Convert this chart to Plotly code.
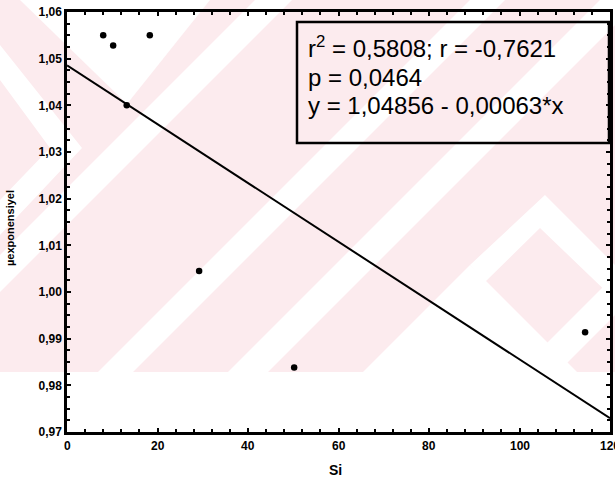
import plotly.graph_objects as go

# Si content vs. exponential mu, with the fitted regression line
si = [8.0, 10.2, 18.3, 13.2, 29.2, 50.2, 114.5]
mu_exp = [1.0550, 1.0528, 1.0550, 1.0400, 1.0045, 0.9838, 0.9914]

fit_intercept = 1.04856
fit_slope = -0.00063
fit_x = [0, 120]

x_tick_vals = [0, 20, 40, 60, 80, 100, 120]
y_tick_vals = [0.97, 0.98, 0.99, 1.00, 1.01, 1.02, 1.03, 1.04, 1.05, 1.06]

stats_lines = [
    "r<sup>2</sup> = 0,5808; r = -0,7621",
    "p = 0,0464",
    "y = 1,04856 - 0,00063*x",
]

# ---- page geometry (pixels) ----
W, H = 615, 484
PL, PR, PT, PB = 67, 610, 12, 432   # plot area edges


def to_paper(px, py):
    return (px - PL) / (PR - PL), (PB - py) / (PB - PT)


def clip_rect(poly, x0, y0, x1, y1):
    """Sutherland-Hodgman clip of a polygon to an axis-aligned rectangle."""
    def clip(pts, inside, inter):
        out = []
        for i in range(len(pts)):
            cur, prev = pts[i], pts[i - 1]
            if inside(cur):
                if not inside(prev):
                    out.append(inter(prev, cur))
                out.append(cur)
            elif inside(prev):
                out.append(inter(prev, cur))
        return out

    def ix(xc):
        return lambda p, q: (xc, p[1] + (q[1] - p[1]) * (xc - p[0]) / (q[0] - p[0]))

    def iy(yc):
        return lambda p, q: (p[0] + (q[0] - p[0]) * (yc - p[1]) / (q[1] - p[1]), yc)

    pts = list(poly)
    for inside, inter in [
        (lambda p: p[0] >= x0, ix(x0)),
        (lambda p: p[0] <= x1, ix(x1)),
        (lambda p: p[1] >= y0, iy(y0)),
        (lambda p: p[1] <= y1, iy(y1)),
    ]:
        if not pts:
            break
        pts = clip(pts, inside, inter)
    return pts


def path_of(poly):
    pts = [to_paper(x, y) for x, y in poly]
    return "M " + " L ".join(f"{x:.5f},{y:.5f}" for x, y in pts) + " Z"


# background watermark: light pink band with white diagonal stripes
PINK = "rgb(252,235,238)"
BAND_BOTTOM = 372
diag_bands = [(255, 292), (470, 505), (600, 640), (890, 930)]
white_polys = [
    [(20, 0), (210, 0), (127, 104)],
    [(0, 45), (82, 148), (0, 235), (0, 200), (50, 148), (0, 80)],
    [(470, 265), (363, 372), (577, 372)],
    [(545, 195), (615, 265), (615, 300), (540, 228), (485, 282), (470, 265)],
]
for a, b in diag_bands:
    white_polys.append([(a + 200, -200), (b + 200, -200), (b - 600, 600), (a - 600, 600)])

shapes = [dict(type="path", xref="paper", yref="paper", layer="below",
               path=path_of([(0, 0), (W, 0), (W, BAND_BOTTOM), (0, BAND_BOTTOM)]),
               fillcolor=PINK, line=dict(width=0))]
for poly in white_polys:
    cp = clip_rect(poly, 0, 0, W, BAND_BOTTOM)
    if len(cp) >= 3:
        shapes.append(dict(type="path", xref="paper", yref="paper", layer="below",
                           path=path_of(cp), fillcolor="white", line=dict(width=0)))

# statistics box
bx0, by1 = to_paper(297, 22)
bx1, by0 = to_paper(609, 143)
shapes.append(dict(type="rect", xref="paper", yref="paper", x0=bx0, x1=bx1, y0=by0, y1=by1,
                   line=dict(color="black", width=2.5), fillcolor="rgba(0,0,0,0)"))

FONT = "Arial, Liberation Sans, sans-serif"
TICK_FONT = dict(family=FONT, size=12, color="black", weight="bold")

fig = go.Figure()
fig.add_trace(go.Scatter(
    x=fit_x, y=[fit_intercept + fit_slope * v for v in fit_x],
    mode="lines", line=dict(color="black", width=2), hoverinfo="skip", showlegend=False,
))
fig.add_trace(go.Scatter(
    x=si, y=mu_exp, mode="markers",
    marker=dict(color="black", size=6.5), showlegend=False,
))

annotations = []
for text, cy in zip(stats_lines, [47, 77, 106]):
    ax_, ay_ = to_paper(306, cy)
    annotations.append(dict(text=text, xref="paper", yref="paper", x=ax_, y=ay_,
                            xanchor="left", yanchor="middle", showarrow=False,
                            font=dict(family=FONT, size=24, color="black")))

# x tick labels drawn as text so the last one may run past the page edge
for v in x_tick_vals:
    annotations.append(dict(text=str(v), xref="x", yref="paper", x=v, y=to_paper(0, 446)[1],
                            xanchor="center", yanchor="middle", showarrow=False,
                            font=TICK_FONT))

sx, sy = to_paper(335, 470)
annotations.append(dict(text="Si", xref="paper", yref="paper", x=sx, y=sy,
                        xanchor="center", yanchor="middle", showarrow=False,
                        font=dict(family=FONT, size=14, color="black", weight="bold")))
tx, ty = to_paper(10, 228)
annotations.append(dict(text="µexponensiyel", xref="paper", yref="paper", x=tx, y=ty,
                        xanchor="center", yanchor="middle", showarrow=False, textangle=-90,
                        font=dict(family=FONT, size=11, color="black", weight="bold")))

axis_common = dict(
    showgrid=False, zeroline=False, showline=True, linecolor="black", linewidth=2.5,
    mirror="allticks", ticks="inside", ticklen=4, tickwidth=2, tickcolor="black",
    tickfont=TICK_FONT,
)

fig.update_layout(
    width=W, height=H,
    margin=dict(l=PL, r=W - PR, t=PT, b=H - PB, autoexpand=False),
    paper_bgcolor="white", plot_bgcolor="rgba(0,0,0,0)",
    separators=",.",
    shapes=shapes, annotations=annotations,
    xaxis=dict(range=[0, 120], tickvals=x_tick_vals, showticklabels=False,
               minor=dict(dtick=4, ticks="inside", ticklen=3, tickwidth=2, tickcolor="black"),
               **axis_common),
    yaxis=dict(range=[0.97, 1.06], tickvals=y_tick_vals, tickformat=".2f",
               minor=dict(dtick=0.0025, ticks="inside", ticklen=3, tickwidth=2, tickcolor="black"),
               **axis_common),
)

fig.write_html("out.html")
